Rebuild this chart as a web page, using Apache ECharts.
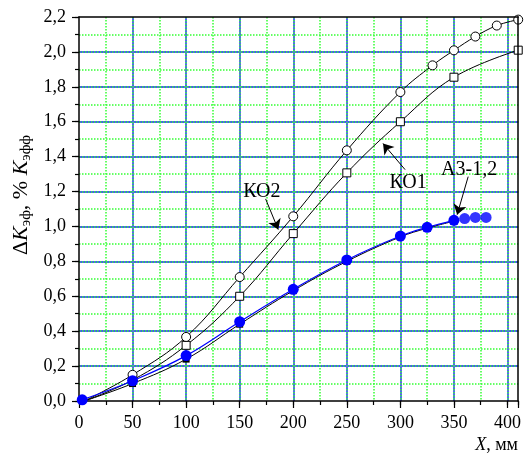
<!DOCTYPE html>
<html>
<head>
<meta charset="utf-8">
<script src="https://cdn.jsdelivr.net/npm/echarts@6/dist/echarts.min.js"></script>
<style>
  html, body { margin: 0; padding: 0; background: #fff; }
  #chart { width: 524px; height: 457px; }
</style>
</head>
<body>
<div id="chart"></div>
<script>
// values: [X mm, dK %]
const ko2 = [[5, 0], [50, 0.15], [100, 0.367], [150, 0.71], [200, 1.058], [250, 1.436],
  [300, 1.77], [330, 1.923], [350, 2.009], [370, 2.088], [390, 2.151], [410, 2.185]]
const ko1 = [[5, 0], [50, 0.12], [100, 0.319], [150, 0.60], [200, 0.959], [250, 1.307],
  [300, 1.60], [350, 1.855], [410, 2.01]]
const a3black = [[5, 0], [50, 0.10], [100, 0.24], [150, 0.44], [200, 0.632], [250, 0.80],
  [300, 0.94], [325, 0.99], [350, 1.03]]
const a3blue = [[3, 0.007], [50, 0.116], [100, 0.26], [150, 0.454], [200, 0.64], [250, 0.808],
  [300, 0.945], [325, 0.995], [350, 1.035]]
const a3tail = [[360, 1.045], [370, 1.052], [380, 1.052]]

// annotation text and arrows, in data units
const notes = [
  { text: 'КО2', at: [170.7, 1.20], from: [174.2, 1.158], to: [186.0, 0.982] },
  { text: 'КО1', at: [307.2, 1.248], from: [304.4, 1.3255], to: [283.8, 1.475] },
  { text: 'А3-1,2', at: [364.2, 1.3255], from: [363.3, 1.2854], to: [353.0, 1.0676] }
]

const serif = '"Liberation Serif", "Times New Roman", serif'
const chart = echarts.init(document.getElementById('chart'))

const majorX = {
  type: 'value', min: 0, max: 410, interval: 50, position: 'bottom',
  axisLine: { show: true, onZero: false, lineStyle: { color: '#000', width: 1.5 } },
  axisTick: { show: true, inside: false, length: 7, lineStyle: { color: '#000', width: 1.2 } },
  axisLabel: {
    color: '#000', fontFamily: serif, fontSize: 18, margin: 13,
    formatter: v => (v > 400 ? '' : String(v))
  },
  splitLine: { show: true, showMinLine: false, showMaxLine: false, lineStyle: { color: '#5a5aff', width: 2 } }
}
const minorX = {
  type: 'value', min: 0, max: 410, interval: 25, position: 'bottom',
  axisLine: { show: false },
  axisTick: { show: true, length: 4, lineStyle: { color: '#000', width: 1.2 } },
  axisLabel: { show: false },
  splitLine: { show: true, showMinLine: false, showMaxLine: false, lineStyle: { color: '#33ff33', width: 1.5, type: 'dotted' } }
}
const topX = {
  type: 'value', min: 0, max: 410, position: 'top', z: 5,
  axisLine: { show: true, onZero: false, lineStyle: { color: '#000', width: 1.5 } },
  axisTick: { show: false }, axisLabel: { show: false }, splitLine: { show: false }
}
const majorY = {
  type: 'value', min: 0, max: 2.2, interval: 0.2, position: 'left',
  axisLine: { show: true, onZero: false, lineStyle: { color: '#000', width: 1.5 } },
  axisTick: { show: true, length: 7, lineStyle: { color: '#000', width: 1.2 } },
  axisLabel: {
    color: '#000', fontFamily: serif, fontSize: 18, margin: 13,
    formatter: v => v.toFixed(1).replace('.', ',')
  },
  splitLine: { show: true, showMinLine: false, showMaxLine: false, lineStyle: { color: '#1010ff', width: 1.5 } }
}
const minorY = {
  type: 'value', min: 0, max: 2.2, interval: 0.1, position: 'left',
  axisLine: { show: false },
  axisTick: { show: true, length: 4, lineStyle: { color: '#000', width: 1.2 } },
  axisLabel: { show: false },
  splitLine: { show: true, showMinLine: false, showMaxLine: false, lineStyle: { color: '#33ff33', width: 1.5, type: 'dotted' } }
}
const rightY = {
  type: 'value', min: 0, max: 2.2, position: 'right', z: 5,
  axisLine: { show: true, onZero: false, lineStyle: { color: '#000', width: 1.5 } },
  axisTick: { show: false }, axisLabel: { show: false }, splitLine: { show: false }
}

function firstBare (data) {
  return data.map((p, i) => (i === 0 ? { value: p, symbol: 'none' } : p))
}

const option = {
  animation: false,
  grid: { left: 79, right: 5, top: 17, bottom: 56 },
  xAxis: [majorX, minorX, topX],
  yAxis: [majorY, minorY, rightY],
  series: [
    {
      name: 'a3black', type: 'line', data: firstBare(a3black), smooth: 0.4,
      symbol: 'rect', symbolSize: 7, z: 3,
      lineStyle: { color: '#000', width: 1 }, itemStyle: { color: '#000' }
    },
    {
      name: 'a3blue', type: 'line', data: a3blue, smooth: 0.4,
      symbol: 'circle', symbolSize: 11, z: 4,
      lineStyle: { color: '#0000ff', width: 1.2 }, itemStyle: { color: '#0000ff' }
    },
    {
      name: 'a3tail', type: 'scatter', data: a3tail,
      symbol: 'circle', symbolSize: 11, z: 4, itemStyle: { color: '#0000ff' }
    },
    {
      name: 'ko1', type: 'line', data: firstBare(ko1), smooth: 0.4,
      symbol: 'rect', symbolSize: 8, z: 3,
      lineStyle: { color: '#000', width: 1 },
      itemStyle: { color: '#fff', borderColor: '#000', borderWidth: 1 }
    },
    {
      name: 'ko2', type: 'line', data: firstBare(ko2), smooth: 0.4,
      symbol: 'circle', symbolSize: 9, z: 3,
      lineStyle: { color: '#000', width: 1 },
      itemStyle: { color: '#fff', borderColor: '#000', borderWidth: 1 }
    },
    {
      // labels and arrows for the curves
      name: 'notes', type: 'line', data: [], z: 6,
      markLine: {
        silent: true, symbol: ['none', 'arrow'], symbolSize: 10,
        lineStyle: { color: '#000', width: 1, type: 'solid' },
        itemStyle: { color: '#000' },
        label: { show: false },
        data: notes.map(n => [{ coord: n.from }, { coord: n.to }])
      },
      markPoint: {
        silent: true, symbol: 'circle', symbolSize: 1,
        itemStyle: { color: 'rgba(0,0,0,0)' },
        label: { show: true, position: 'inside', color: '#000', fontFamily: serif, fontSize: 20 },
        data: notes.map(n => ({ coord: n.at, label: { formatter: n.text } }))
      }
    }
  ],
  graphic: [
    {
      type: 'text', x: 21, y: 195, rotation: Math.PI / 2, z: 10,
      style: {
        text: 'Δ{i|K}{s|эф}, % {i|K}{s|эфф}',
        fill: '#000', fontFamily: serif, fontSize: 22,
        align: 'center', verticalAlign: 'middle',
        rich: {
          i: { fontFamily: serif, fontSize: 22, fontStyle: 'italic', fill: '#000' },
          s: { fontFamily: serif, fontSize: 15, fill: '#000', padding: [11, 0, 0, 0] }
        }
      }
    },
    {
      type: 'text', right: 6, top: 436, z: 10,
      style: {
        text: '{i|X}, мм', fill: '#000', fontFamily: serif, fontSize: 18,
        rich: { i: { fontFamily: serif, fontSize: 18, fontStyle: 'italic', fill: '#000' } }
      }
    }
  ]
}

chart.setOption(option)
</script>
</body>
</html>
